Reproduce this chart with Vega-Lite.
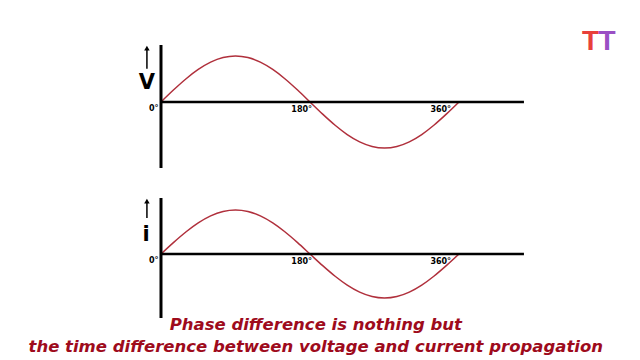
{
  "$schema": "https://vega.github.io/schema/vega-lite/v6.json",
  "width": 640,
  "height": 360,
  "padding": 0,
  "autosize": {"type": "fit", "contains": "padding"},
  "background": "white",
  "config": {"view": {"stroke": null}, "axis": {"disable": true}},
  "datasets": {
    "voltage": [
      {"deg": 0, "v": 0}, {"deg": 15, "v": 0.259}, {"deg": 30, "v": 0.5}, {"deg": 45, "v": 0.707},
      {"deg": 60, "v": 0.866}, {"deg": 75, "v": 0.966}, {"deg": 90, "v": 1}, {"deg": 105, "v": 0.966},
      {"deg": 120, "v": 0.866}, {"deg": 135, "v": 0.707}, {"deg": 150, "v": 0.5}, {"deg": 165, "v": 0.259},
      {"deg": 180, "v": 0}, {"deg": 195, "v": -0.259}, {"deg": 210, "v": -0.5}, {"deg": 225, "v": -0.707},
      {"deg": 240, "v": -0.866}, {"deg": 255, "v": -0.966}, {"deg": 270, "v": -1}, {"deg": 285, "v": -0.966},
      {"deg": 300, "v": -0.866}, {"deg": 315, "v": -0.707}, {"deg": 330, "v": -0.5}, {"deg": 345, "v": -0.259},
      {"deg": 360, "v": 0}
    ],
    "current": [
      {"deg": 0, "i": 0}, {"deg": 15, "i": 0.259}, {"deg": 30, "i": 0.5}, {"deg": 45, "i": 0.707},
      {"deg": 60, "i": 0.866}, {"deg": 75, "i": 0.966}, {"deg": 90, "i": 1}, {"deg": 105, "i": 0.966},
      {"deg": 120, "i": 0.866}, {"deg": 135, "i": 0.707}, {"deg": 150, "i": 0.5}, {"deg": 165, "i": 0.259},
      {"deg": 180, "i": 0}, {"deg": 195, "i": -0.259}, {"deg": 210, "i": -0.5}, {"deg": 225, "i": -0.707},
      {"deg": 240, "i": -0.866}, {"deg": 255, "i": -0.966}, {"deg": 270, "i": -1}, {"deg": 285, "i": -0.966},
      {"deg": 300, "i": -0.866}, {"deg": 315, "i": -0.707}, {"deg": 330, "i": -0.5}, {"deg": 345, "i": -0.259},
      {"deg": 360, "i": 0}
    ],
    "one": [{}]
  },
  "resolve": {"scale": {"y": "independent"}},
  "layer": [
    {
      "layer": [
        {
          "data": {"name": "voltage"},
          "mark": {"type": "line", "stroke": "#b0303c", "strokeWidth": 1.5, "interpolate": "monotone"},
          "encoding": {
            "x": {"field": "deg", "type": "quantitative", "scale": {"domain": [-194.5, 578.7], "nice": false, "zero": false}},
            "y": {"field": "v", "type": "quantitative", "scale": {"domain": [-5.609, 2.217], "nice": false, "zero": false}}
          }
        },
        {
          "data": {"name": "one"},
          "mark": {"type": "rule", "stroke": "black", "strokeWidth": 2.5},
          "encoding": {"x": {"datum": 0}, "x2": {"datum": 438.5}, "y": {"datum": 0}}
        },
        {
          "data": {"name": "one"},
          "mark": {"type": "rule", "stroke": "black", "strokeWidth": 3},
          "encoding": {"x": {"datum": 0}, "y": {"datum": 1.239}, "y2": {"datum": -1.435}}
        },
        {
          "data": {"name": "one"},
          "mark": {"type": "rule", "stroke": "black", "strokeWidth": 1.5},
          "encoding": {"x": {"datum": -17}, "y": {"datum": 1.13}, "y2": {"datum": 0.72}}
        },
        {
          "data": {"name": "one"},
          "mark": {"type": "point", "shape": "triangle-up", "filled": true, "color": "black", "size": 30, "opacity": 1},
          "encoding": {"x": {"datum": -17}, "y": {"datum": 1.17}}
        },
        {
          "data": {"name": "one"},
          "mark": {"type": "text", "text": "V", "font": "DejaVu Sans", "fontWeight": "bold", "fontSize": 21, "baseline": "middle", "align": "center", "color": "black"},
          "encoding": {"x": {"datum": -17}, "y": {"datum": 0.41}}
        },
        {
          "data": {"name": "one"},
          "mark": {"type": "text", "text": "0°", "font": "DejaVu Sans", "fontWeight": "bold", "fontSize": 8, "baseline": "middle", "align": "right", "color": "black"},
          "encoding": {"x": {"datum": -3}, "y": {"datum": -0.16}}
        },
        {
          "data": {"name": "one"},
          "mark": {"type": "text", "text": "180°", "font": "DejaVu Sans", "fontWeight": "bold", "fontSize": 8, "baseline": "middle", "align": "center", "color": "black"},
          "encoding": {"x": {"datum": 170}, "y": {"datum": -0.18}}
        },
        {
          "data": {"name": "one"},
          "mark": {"type": "text", "text": "360°", "font": "DejaVu Sans", "fontWeight": "bold", "fontSize": 8, "baseline": "middle", "align": "center", "color": "black"},
          "encoding": {"x": {"datum": 338}, "y": {"datum": -0.18}}
        },
        {
          "data": {"name": "one"},
          "mark": {"type": "text", "text": "Phase difference is nothing but", "font": "DejaVu Sans", "fontWeight": "bold", "fontStyle": "italic", "fontSize": 16.5, "baseline": "middle", "align": "center", "color": "#9e0b1c"},
          "encoding": {"x": {"datum": 187}, "y": {"datum": -4.85}}
        },
        {
          "data": {"name": "one"},
          "mark": {"type": "text", "text": "the time difference between voltage and current propagation", "font": "DejaVu Sans", "fontWeight": "bold", "fontStyle": "italic", "fontSize": 16.5, "baseline": "middle", "align": "center", "color": "#9e0b1c"},
          "encoding": {"x": {"datum": 187}, "y": {"datum": -5.33}}
        },
        {
          "data": {"name": "one"},
          "mark": {"type": "text", "text": "T", "font": "Liberation Sans", "fontWeight": "bold", "fontSize": 28, "baseline": "middle", "align": "center", "color": "#e8403a"},
          "encoding": {"x": {"datum": 519}, "y": {"datum": 1.3}}
        },
        {
          "data": {"name": "one"},
          "mark": {"type": "text", "text": "T", "font": "Liberation Sans", "fontWeight": "bold", "fontSize": 28, "baseline": "middle", "align": "center", "color": "#9a4fc4"},
          "encoding": {"x": {"datum": 539}, "y": {"datum": 1.3}}
        }
      ]
    },
    {
      "layer": [
        {
          "data": {"name": "current"},
          "mark": {"type": "line", "stroke": "#b0303c", "strokeWidth": 1.5, "interpolate": "monotone"},
          "encoding": {
            "x": {"field": "deg", "type": "quantitative"},
            "y": {"field": "i", "type": "quantitative", "scale": {"domain": [-2.409, 5.773], "nice": false, "zero": false}}
          }
        },
        {
          "data": {"name": "one"},
          "mark": {"type": "rule", "stroke": "black", "strokeWidth": 2.5},
          "encoding": {"x": {"datum": 0}, "x2": {"datum": 438.5}, "y": {"datum": 0}}
        },
        {
          "data": {"name": "one"},
          "mark": {"type": "rule", "stroke": "black", "strokeWidth": 3},
          "encoding": {"x": {"datum": 0}, "y": {"datum": 1.273}, "y2": {"datum": -1.455}}
        },
        {
          "data": {"name": "one"},
          "mark": {"type": "rule", "stroke": "black", "strokeWidth": 1.5},
          "encoding": {"x": {"datum": -17}, "y": {"datum": 1.16}, "y2": {"datum": 0.82}}
        },
        {
          "data": {"name": "one"},
          "mark": {"type": "point", "shape": "triangle-up", "filled": true, "color": "black", "size": 30, "opacity": 1},
          "encoding": {"x": {"datum": -17}, "y": {"datum": 1.2}}
        },
        {
          "data": {"name": "one"},
          "mark": {"type": "text", "text": "i", "font": "DejaVu Sans", "fontWeight": "bold", "fontSize": 21, "baseline": "middle", "align": "center", "color": "black"},
          "encoding": {"x": {"datum": -18}, "y": {"datum": 0.44}}
        },
        {
          "data": {"name": "one"},
          "mark": {"type": "text", "text": "0°", "font": "DejaVu Sans", "fontWeight": "bold", "fontSize": 8, "baseline": "middle", "align": "right", "color": "black"},
          "encoding": {"x": {"datum": -3}, "y": {"datum": -0.16}}
        },
        {
          "data": {"name": "one"},
          "mark": {"type": "text", "text": "180°", "font": "DejaVu Sans", "fontWeight": "bold", "fontSize": 8, "baseline": "middle", "align": "center", "color": "black"},
          "encoding": {"x": {"datum": 170}, "y": {"datum": -0.18}}
        },
        {
          "data": {"name": "one"},
          "mark": {"type": "text", "text": "360°", "font": "DejaVu Sans", "fontWeight": "bold", "fontSize": 8, "baseline": "middle", "align": "center", "color": "black"},
          "encoding": {"x": {"datum": 338}, "y": {"datum": -0.18}}
        }
      ]
    }
  ]
}
